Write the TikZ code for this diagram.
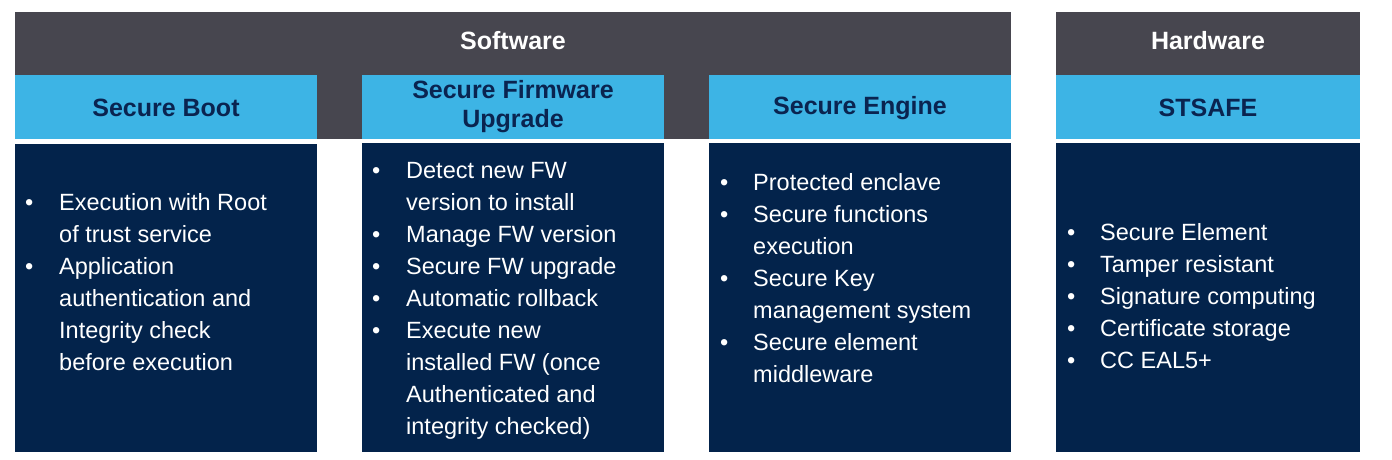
\documentclass[tikz,border=0pt]{standalone}
\usepackage{fontspec}
\setmainfont{Liberation Sans}
\definecolor{gbar}{HTML}{47464F}
\definecolor{lblue}{HTML}{3DB4E5}
\definecolor{navy}{HTML}{03234B}
\definecolor{ttl}{HTML}{0A2450}
\newcommand{\bl}{\textbullet}
\begin{document}
\begin{tikzpicture}[x=1pt,y=-1pt,
  gray/.style={fill=gbar,draw=none},
  head/.style={fill=lblue,draw=none},
  body/.style={fill=navy,draw=none},
  big/.style={font=\fontsize{25}{29}\selectfont\bfseries,align=center},
  txt/.style={text=white,anchor=north west,inner sep=0pt,font=\fontsize{23.5}{32}\selectfont}]
\useasboundingbox (0,0) rectangle (1392,460);
\fill[gray] (15,12) rectangle (1011,139);
\fill[gray] (1056,12) rectangle (1360,139);
\fill[head] (15,75) rectangle (317,139);
\fill[head] (362,75) rectangle (664,139);
\fill[head] (709,75) rectangle (1011,139);
\fill[head] (1056,75) rectangle (1360,139);
\fill[body] (15,144) rectangle (317,452);
\fill[body] (362,143) rectangle (664,452);
\fill[body] (709,143) rectangle (1011,452);
\fill[body] (1056,143) rectangle (1360,452);
\node[big,text=white] (sw) at (513,41) {Software};
\node[big,text=white] (hw) at (1208,41) {Hardware};
\node[big,text=ttl] (sb) at (166,108) {Secure Boot};
\node[big,text=ttl] (sf) at (513,107) {Secure Firmware\\Upgrade};
\node[big,text=ttl] (se) at (860,108) {Secure Engine};
\node[big,text=ttl] (st) at (1208,108) {STSAFE};
\node[txt] (t1) at (25,188) {\begin{tabular}{@{}p{34pt}@{}l@{}}
\bl & Execution with Root\\ & of trust service\\
\bl & Application\\ & authentication and\\ & Integrity check\\ & before execution\end{tabular}};
\node[txt] (t2) at (372,156) {\begin{tabular}{@{}p{34pt}@{}l@{}}
\bl & Detect new FW\\ & version to install\\
\bl & Manage FW version\\
\bl & Secure FW upgrade\\
\bl & Automatic rollback\\
\bl & Execute new\\ & installed FW (once\\ & Authenticated and\\ & integrity checked)\end{tabular}};
\node[txt] (t3) at (720,168) {\begin{tabular}{@{}p{33pt}@{}l@{}}
\bl & Protected enclave\\
\bl & Secure functions\\ & execution\\
\bl & Secure Key\\ & management system\\
\bl & Secure element\\ & middleware\end{tabular}};
\node[txt] (t4) at (1067,218) {\begin{tabular}{@{}p{33pt}@{}l@{}}
\bl & Secure Element\\
\bl & Tamper resistant\\
\bl & Signature computing\\
\bl & Certificate storage\\
\bl & CC EAL5+\end{tabular}};
\end{tikzpicture}
\end{document}
